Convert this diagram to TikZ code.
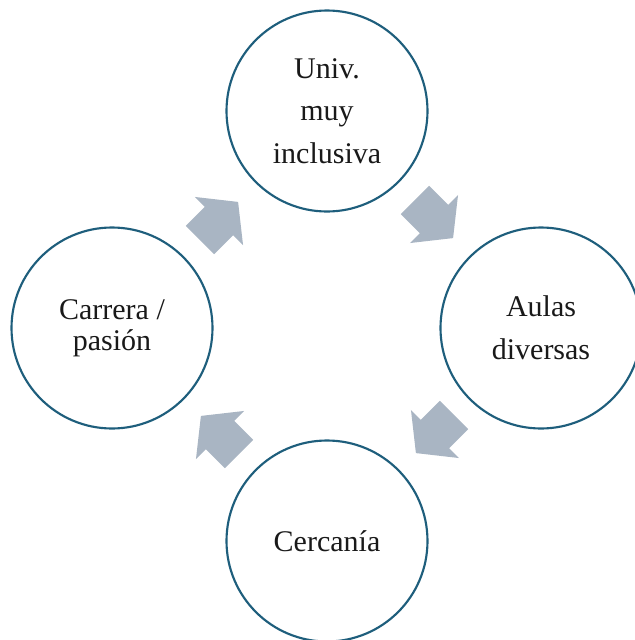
\documentclass[tikz,border=0pt]{standalone}
\usepackage{fontspec}
\setmainfont{Liberation Serif}
\definecolor{ringblue}{RGB}{30,94,124}
\definecolor{arrowgray}{RGB}{169,181,195}
\definecolor{textdark}{RGB}{25,25,25}
\begin{document}
\begin{tikzpicture}[x=0.75pt,y=-0.75pt,
  cyclenode/.style={circle, draw=ringblue, line width=1.6pt, fill=white,
    minimum size=150.75pt, inner sep=0pt, align=center, text=textdark},
  widespace/.style={font=\fontsize{22.5}{32}\selectfont},
  tightspace/.style={font=\fontsize{22.5}{23}\selectfont},
  blockarrow/.style={fill=arrowgray, draw=none}]
\useasboundingbox (0,0) rectangle (635,640);
\clip (0,0) rectangle (635,640);
% nodes
\node[cyclenode, widespace] (top) at (327,111) {Univ.\\muy\\inclusiva};
\node[cyclenode, widespace] (right) at (541,328) {Aulas\\diversas};
\node[cyclenode, widespace] (bottom) at (327,541) {Cercanía};
\node[cyclenode, tightspace] (left) at (112,328) {Carrera /\\pasión};
% block arrows (shapes)
\foreach \cx/\cy/\ang in {219/221/45, 434/219/-45, 435/434/-135, 220/435/135}{
  \begin{scope}[shift={(\cx,\cy)}, rotate=\ang]
    \fill[blockarrow] (-27,-20) -- (0,-20) -- (0,-34) -- (27,0) -- (0,34) -- (0,20) -- (-27,20) -- cycle;
  \end{scope}
}
\end{tikzpicture}
\end{document}
